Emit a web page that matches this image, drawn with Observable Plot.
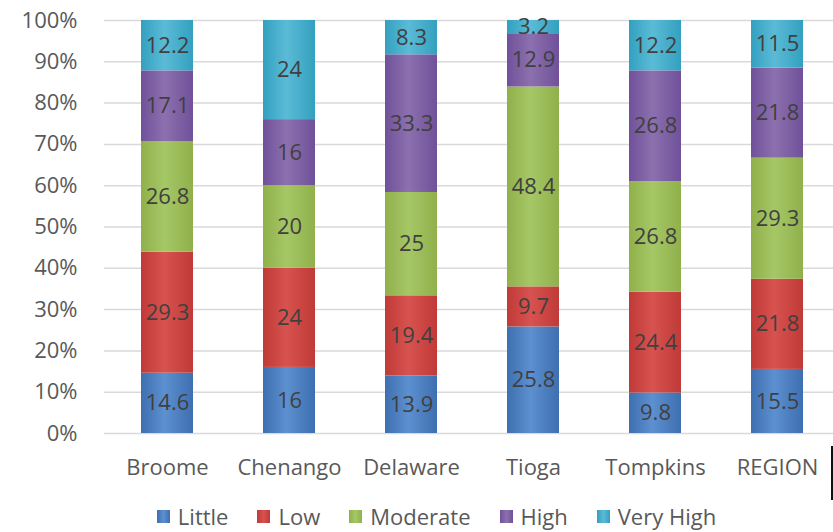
<!DOCTYPE html>
<html>
<head>
<meta charset="utf-8">
<script src="https://cdn.jsdelivr.net/npm/d3@7"></script>
<script src="https://cdn.jsdelivr.net/npm/@observablehq/plot@0.6"></script>
<style>
  body { margin: 0; background: #fff; font-family: "Open Sans", sans-serif; }
  #wrap { position: relative; width: 833px; height: 532px; overflow: hidden; }
  #legend { display: flex; justify-content: center; align-items: center; gap: 29px; font-size: 22px; line-height: 24px; color: #595959; margin-top: 14px; padding-left: 40px; }
  #legend .item { display: flex; align-items: center; gap: 8px; }
  #legend .sw { width: 13px; height: 13px; }
  #edge { position: absolute; left: 831px; top: 446px; width: 2px; height: 54px; background: #111; }
</style>
</head>
<body>
<div id="wrap">
  <div id="chart"></div>
  <div id="legend"></div>
  <div id="edge"></div>
</div>
<script>
const categories = ["Broome", "Chenango", "Delaware", "Tioga", "Tompkins", "REGION"];
const series = ["Little", "Low", "Moderate", "High", "Very High"];
const little   = [14.6, 16, 13.9, 25.8, 9.8, 15.5];
const low      = [29.3, 24, 19.4, 9.7, 24.4, 21.8];
const moderate = [26.8, 20, 25, 48.4, 26.8, 29.3];
const high     = [17.1, 16, 33.3, 12.9, 26.8, 21.8];
const veryHigh = [12.2, 24, 8.3, 3.2, 12.2, 11.5];
const yTicks = [0, 0.1, 0.2, 0.3, 0.4, 0.5, 0.6, 0.7, 0.8, 0.9, 1];

const seriesValues = [little, low, moderate, high, veryHigh];
const edgeColors = ["#3e6fb0", "#c03a37", "#8fb04a", "#70519a", "#33a0bf"];
const midColors  = ["#5d90d0", "#d75350", "#a6c766", "#8c70ae", "#5bbbd6"];

const data = [];
categories.forEach((c, i) => {
  series.forEach((s, j) => {
    data.push({category: c, series: s, value: seriesValues[j][i]});
  });
});

const defsMark = () => {
  const defs = d3.create("svg:defs");
  series.forEach((s, j) => {
    const g = defs.append("linearGradient").attr("id", "g" + j).attr("x1", 0).attr("x2", 1).attr("y1", 0).attr("y2", 0);
    g.append("stop").attr("offset", "0%").attr("stop-color", edgeColors[j]);
    g.append("stop").attr("offset", "45%").attr("stop-color", midColors[j]);
    g.append("stop").attr("offset", "100%").attr("stop-color", edgeColors[j]);
  });
  return defs.node();
};

const fmtPct = d => Math.round(d * 100) + "%";

const chart = Plot.plot({
  width: 833,
  height: 490,
  marginLeft: 104,
  marginRight: -6,
  marginTop: 20,
  marginBottom: 57,
  style: {fontFamily: "Open Sans, sans-serif", fontSize: "22px", color: "#595959", background: "#fff", overflow: "visible"},
  x: {domain: categories, paddingInner: 0.575, paddingOuter: 0.2875, label: null},
  y: {domain: [0, 1], label: null},
  color: {domain: series, range: series.map((s, j) => `url(#g${j})`)},
  marks: [
    defsMark,
    Plot.gridY(yTicks, {stroke: "#d9d9d9", strokeOpacity: 1, strokeWidth: 1.5}),
    Plot.barY(data, Plot.stackY({x: "category", y: "value", z: "series", fill: "series", offset: "normalize"})),
    Plot.text(data, Plot.stackY({x: "category", y: "value", z: "series", text: d => String(d.value), offset: "normalize", fill: "#404040", fontSize: 22})),
    Plot.axisX({tickSize: 0, tickPadding: 26, fontSize: 22, fill: "#595959", label: null}),
    Plot.axisY({ticks: yTicks, tickFormat: fmtPct, tickSize: 0, tickPadding: 27, fontSize: 22, fill: "#595959", label: null})
  ]
});
document.getElementById("chart").appendChild(chart);

const legend = document.getElementById("legend");
series.forEach((s, j) => {
  const item = document.createElement("div");
  item.className = "item";
  const sw = document.createElement("div");
  sw.className = "sw";
  sw.style.background = `linear-gradient(90deg, ${edgeColors[j]}, ${midColors[j]}, ${edgeColors[j]})`;
  const t = document.createElement("span");
  t.textContent = s;
  item.appendChild(sw);
  item.appendChild(t);
  legend.appendChild(item);
});
</script>
</body>
</html>
